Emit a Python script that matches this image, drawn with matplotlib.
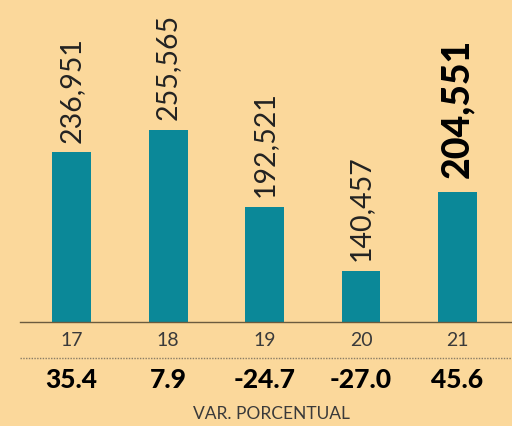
import matplotlib
matplotlib.use('Agg')
import matplotlib.pyplot as plt
from matplotlib.transforms import blended_transform_factory

years = ['17', '18', '19', '20', '21']
values = [236951, 255565, 192521, 140457, 204551]
pct_change = ['35.4', '7.9', '-24.7', '-27.0', '45.6']

bg = '#FBD89B'
teal = '#0B8898'

fig = plt.figure(figsize=(5.12, 4.26), dpi=100, facecolor=bg)
ax = fig.add_axes([20 / 512, 1 - 321.7 / 426, 492 / 512, 321.7 / 426])
ax.set_facecolor(bg)

x = list(range(len(years)))
ax.bar(x, values, width=0.404, color=teal, zorder=2)
ax.set_xlim(-0.534, 4.565)
ax.set_ylim(98800, 361400)

for spine in ['top', 'right', 'left']:
    ax.spines[spine].set_visible(False)
ax.spines['bottom'].set_color('#6b5b3e')
ax.spines['bottom'].set_linewidth(1)
ax.set_yticks([])
ax.set_xticks([])

# value labels, rotated, last one bold
for i, v in enumerate(values):
    label = f'{v:,}'
    if i == len(values) - 1:
        ax.annotate(label, (i, v), xytext=(0, 10), textcoords='offset points',
                    rotation=90, ha='center', va='bottom', fontsize=27,
                    family='Lato', weight='black', color='black')
    else:
        ax.annotate(label, (i, v), xytext=(0, 7), textcoords='offset points',
                    rotation=90, ha='center', va='bottom', fontsize=20.5,
                    family='Lato', weight='normal', color='#222222')

trans = blended_transform_factory(ax.transData, fig.transFigure)
for i, y in enumerate(years):
    fig.text(i, 1 - 341 / 426, y, transform=trans, ha='center', va='center',
             fontsize=14, family='Lato', weight='normal', color='#3a3a3a')
    fig.text(i, 1 - 380 / 426, pct_change[i], transform=trans, ha='center',
             va='center', fontsize=19, family='Lato', weight='black',
             color='black')

fig.add_artist(plt.Line2D([20 / 512, 1], [1 - 358 / 426] * 2,
                          transform=fig.transFigure, color='#8a7d66',
                          linestyle=(0, (1, 1)), linewidth=1))

fig.text(271 / 512, 1 - 414 / 426, 'VAR. PORCENTUAL', ha='center', va='center',
         fontsize=12.5, family='Lato', weight='normal', color='#3a3a3a')

plt.savefig('out.png', dpi=100, facecolor=bg)
